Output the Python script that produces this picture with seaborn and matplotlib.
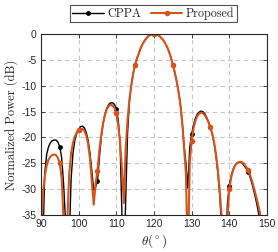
import numpy as np
import pandas as pd
import matplotlib
matplotlib.use("Agg")
import matplotlib.pyplot as plt
import seaborn as sns

# angle grid (deg), 0.5 deg steps
theta = [90 + 0.5 * i for i in range(121)]

cppa = [
    -45, -40, -27, -23.3, -21.8, -21.0, -20.6, -20.5, -20.5, -20.9,   # 90 - 94.5
    -21.8, -24, -29, -36, -45, -40, -28, -23, -20.5, -19.2,           # 95 - 99.5
    -18.5, -17.9, -17.8, -18.1, -19.0, -20.5, -23, -26.5, -30.2, -29.6,  # 100 - 104.5
    -28.4, -24, -20, -17.3, -15.5, -14.3, -13.6, -13.3, -13.3, -13.6,  # 105 - 109.5
    -14.4, -16.5, -21, -35, -45, -32, -19, -13, -9.8, -7.6,           # 110 - 114.5
    -5.9, -4.7, -3.7, -2.7, -1.9, -1.3, -0.8, -0.4, -0.2, 0,          # 115 - 119.5
    0, 0, -0.2, -0.4, -0.8, -1.2, -1.8, -2.5, -3.4, -4.5,             # 120 - 124.5
    -5.9, -7.3, -9.0, -11, -13.5, -17, -21.5, -25, -29.8, -22,        # 125 - 129.5
    -19.4, -17.6, -16.3, -15.5, -15.1, -14.9, -15.0, -15.4, -16.1, -17.0,  # 130 - 134.5
    -18.0, -19.4, -21.2, -23.7, -27, -31.5, -38, -45, -45, -33,       # 135 - 139.5
    -29.3, -27.5, -26.2, -25.4, -25.0, -24.8, -24.8, -25.0, -25.5, -26.0,  # 140 - 144.5
    -26.6, -27.6, -28.8, -30.2, -31.8, -33.5, -35.5, -40, -45, -50,   # 145 - 149.5
    -50,
]

proposed = [
    -40, -31, -27.5, -25.5, -24.3, -23.7, -23.4, -23.3, -23.4, -24,   # 90 - 94.5
    -25, -28, -36, -45, -36, -27, -23, -21, -19.8, -19.0,             # 95 - 99.5
    -18.6, -18.3, -18.3, -18.7, -19.6, -21.2, -24, -28.5, -33, -29,   # 100 - 104.5
    -26.4, -22.5, -19.5, -17.2, -15.6, -14.5, -13.9, -13.7, -13.8, -14.3,  # 105 - 109.5
    -15.3, -17.5, -21, -26, -32.7, -22, -16.5, -12.6, -9.8, -7.6,     # 110 - 114.5
    -5.9, -4.7, -3.7, -2.7, -1.9, -1.3, -0.8, -0.4, -0.2, 0,          # 115 - 119.5
    0, 0, -0.2, -0.4, -0.8, -1.2, -1.8, -2.5, -3.4, -4.5,             # 120 - 124.5
    -5.9, -7.3, -9.0, -11, -13.5, -17, -22, -27, -45, -25,            # 125 - 129.5
    -20.6, -18.3, -16.8, -15.9, -15.4, -15.2, -15.3, -15.7, -16.3, -17.1,  # 130 - 134.5
    -18.0, -19.3, -21, -23.3, -26.5, -30.5, -35.5, -45, -45, -36,     # 135 - 139.5
    -30.0, -27.8, -26.4, -25.5, -25.0, -24.8, -24.7, -24.8, -25.2, -25.7,  # 140 - 144.5
    -26.3, -27.2, -28.3, -29.6, -31.0, -32.5, -34.0, -36, -40, -45,   # 145 - 149.5
    -50,
]

series_names = ["CPPA", "Proposed"]
colors = {"CPPA": "#000000", "Proposed": "#D95319"}

df = pd.concat([
    pd.DataFrame({"theta": theta, "power": cppa, "method": "CPPA"}),
    pd.DataFrame({"theta": theta, "power": proposed, "method": "Proposed"}),
])

sns.set_style("ticks")
plt.rcParams["font.family"] = ["cmr10", "DejaVu Serif"]
plt.rcParams["mathtext.fontset"] = "cm"
plt.rcParams["axes.unicode_minus"] = False

fig = plt.figure(figsize=(2.78, 2.52), dpi=100)
ax = fig.add_axes([0.1475, 0.1468, 0.8125, 0.718])

for name, lw, ms in [("CPPA", 1.0, 3.5), ("Proposed", 1.5, 4.0)]:
    sub = df[df["method"] == name]
    sns.lineplot(data=sub, x="theta", y="power", ax=ax, color=colors[name],
                 linewidth=lw, marker="o", markersize=ms, markeredgewidth=0,
                 markevery=10, label=name, estimator=None, sort=False)

ax.set_xlim(90, 150)
ax.set_ylim(-35, 0)
ax.set_xticks(range(90, 151, 10))
ax.set_yticks(range(-35, 1, 5))
ax.grid(True, linestyle=(0, (4, 3)), color="#c8c8c8", linewidth=0.8)
ax.tick_params(direction="in", labelsize=7.5, length=3, top=True, right=True, width=0.6,
               pad=3, labelcolor="#262626", labelfontfamily="Liberation Sans")
for s in ax.spines.values():
    s.set_linewidth(0.8)
    s.set_color("#262626")

ax.set_xlabel(r"$\theta(^\circ)$", fontsize=9.5, labelpad=2)
ax.set_ylabel("Normalized Power (dB)", fontsize=9, labelpad=3)

leg = ax.legend(loc="lower center", bbox_to_anchor=(0.498, 1.065), ncol=2, fontsize=8.7,
                frameon=True, fancybox=False, edgecolor="#262626", handlelength=2.6,
                handletextpad=0.3, columnspacing=0.8, borderpad=0.2, borderaxespad=0)
leg.get_frame().set_linewidth(0.8)

fig.savefig("out.png", dpi=100)
